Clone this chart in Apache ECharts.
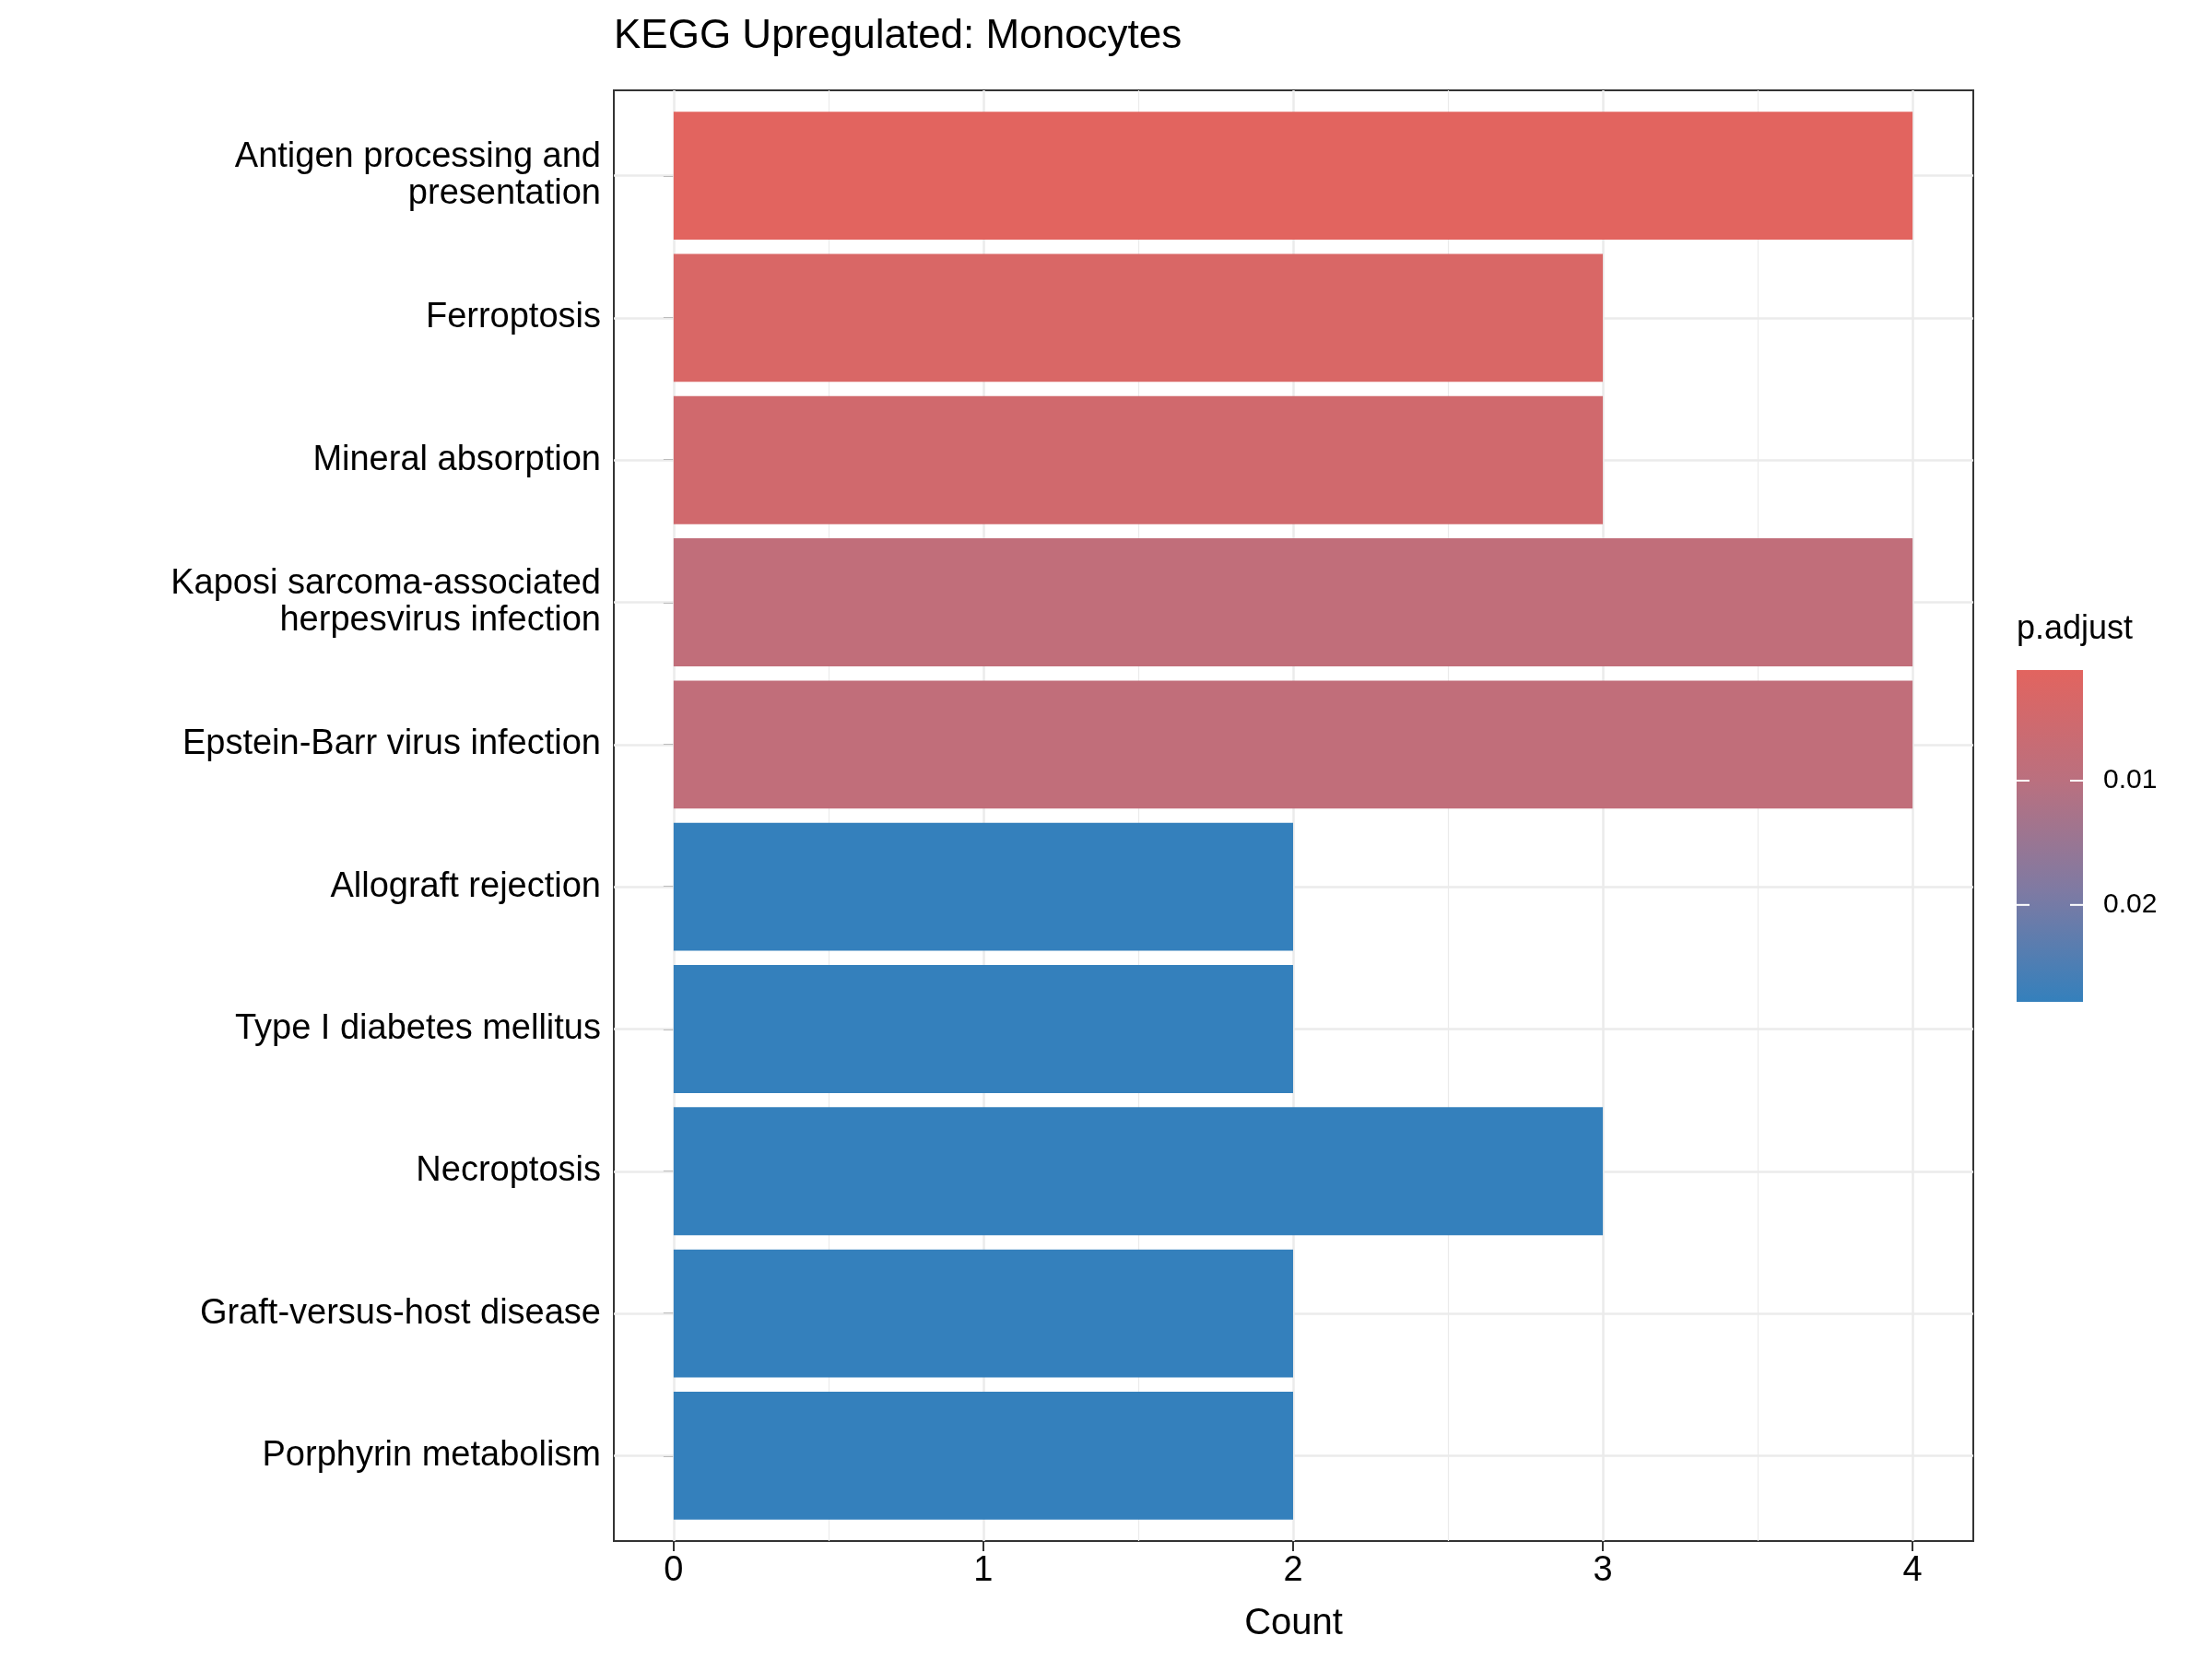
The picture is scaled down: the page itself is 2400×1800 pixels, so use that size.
<!DOCTYPE html>
<html><head><meta charset="utf-8">
<script src="https://cdn.jsdelivr.net/npm/echarts@6/dist/echarts.min.js"></script>
<style>html,body{margin:0;background:#fff}#c{width:2400px;height:1800px}</style>
</head><body><div id="c"></div>
<script>
const categories = ["Antigen processing and\npresentation","Ferroptosis","Mineral absorption","Kaposi sarcoma-associated\nherpesvirus infection","Epstein-Barr virus infection","Allograft rejection","Type I diabetes mellitus","Necroptosis","Graft-versus-host disease","Porphyrin metabolism"];
const counts = [4,3,3,4,4,2,2,3,2,2];
const padjust = [0.0012,0.0030,0.0050,0.0085,0.0085,0.0278,0.0278,0.0278,0.0278,0.0278];
const xTicks = [0,1,2,3,4];
const legendTicks = [0.01,0.02];
const pMin = 0.0011, pMax = 0.0278;
const colorStops = ['#E2645F','#BA707F','#7E7AA3','#3480BC'];

const chart = echarts.init(document.getElementById('c'));
const font = 'Liberation Sans, Arial, sans-serif';
const grid = {left:666, right:259, top:98, bottom:128};
const yIdx = categories.map((_,i)=>i+1);
const data = counts.map((c,i)=>[c,i+1,padjust[i]]);

// legend geometry
const lgTop=727, lgBot=1087, lgL=2188, lgW=72;
const py = v => lgTop + (v-pMin)/(pMax-pMin)*(lgBot-lgTop);
const graphics = [
  {type:'text', left:666, top:18, style:{text:'KEGG Upregulated: Monocytes', font:'44px '+font, fill:'#000'}},
  {type:'text', left:lgL, top:665, style:{text:'p.adjust', font:'36px '+font, fill:'#000'}},
  {type:'rect', shape:{x:lgL,y:lgTop,width:lgW,height:lgBot-lgTop},
    style:{fill:new echarts.graphic.LinearGradient(0,0,0,1,colorStops.map((c,i)=>({offset:i/(colorStops.length-1),color:c})))}}
];
legendTicks.forEach(t=>{
  const y=py(t);
  graphics.push({type:'line',shape:{x1:lgL,y1:y,x2:lgL+14,y2:y},style:{stroke:'#fff',lineWidth:2}});
  graphics.push({type:'line',shape:{x1:lgL+lgW-14,y1:y,x2:lgL+lgW,y2:y},style:{stroke:'#fff',lineWidth:2}});
  graphics.push({type:'text',x:lgL+lgW+22,y:y,style:{text:String(t),font:'30px '+font,fill:'#000',verticalAlign:'middle'}});
});

const minorX=[0,0.5,1,1.5,2,2.5,3,3.5,4];
chart.setOption({
  animation:false,
  grid:Object.assign({show:true,borderColor:'#333',borderWidth:2,backgroundColor:'#fff'},grid),
  visualMap:{show:false,type:'continuous',dimension:2,min:pMin,max:pMax,inRange:{color:colorStops}},
  xAxis:{type:'value',min:-0.193,max:4.196,
    name:'Count',nameLocation:'middle',nameGap:70,nameTextStyle:{fontSize:40,fontFamily:font,color:'#000'},
    axisLine:{show:false},splitLine:{show:false},
    axisTick:{show:true,customValues:xTicks,length:11,lineStyle:{color:'#333',width:2}},
    axisLabel:{customValues:xTicks,fontSize:38,fontFamily:font,color:'#000',margin:14}},
  yAxis:{type:'value',min:0.4,max:10.6,inverse:true,
    axisLine:{show:false},splitLine:{show:false},
    axisTick:{show:true,customValues:yIdx,length:11,lineStyle:{color:'#333',width:2}},
    axisLabel:{customValues:yIdx,fontSize:38,lineHeight:40,fontFamily:font,color:'#000',align:'right',margin:14,
      formatter:v=>categories[Math.round(v)-1]||''}},
  series:[{
    type:'custom',data:data,encode:{x:0,y:1},
    renderItem:(params,api)=>{
      const p0=api.coord([0,api.value(1)-0.45]);
      const p1=api.coord([api.value(0),api.value(1)+0.45]);
      return {type:'rect',shape:{x:p0[0],y:p0[1],width:p1[0]-p0[0],height:p1[1]-p0[1]},style:{fill:api.visual('color')}};
    },
    markLine:{silent:true,symbol:'none',label:{show:false},z:1,
      data:[...minorX.map(v=>({xAxis:v,lineStyle:{color:'#EBEBEB',width:v%1===0?2.5:1.2,type:'solid'}})),
            ...yIdx.map(v=>({yAxis:v,lineStyle:{color:'#EBEBEB',width:2.5,type:'solid'}}))]}
  }],
  graphic:graphics
});
</script></body></html>
